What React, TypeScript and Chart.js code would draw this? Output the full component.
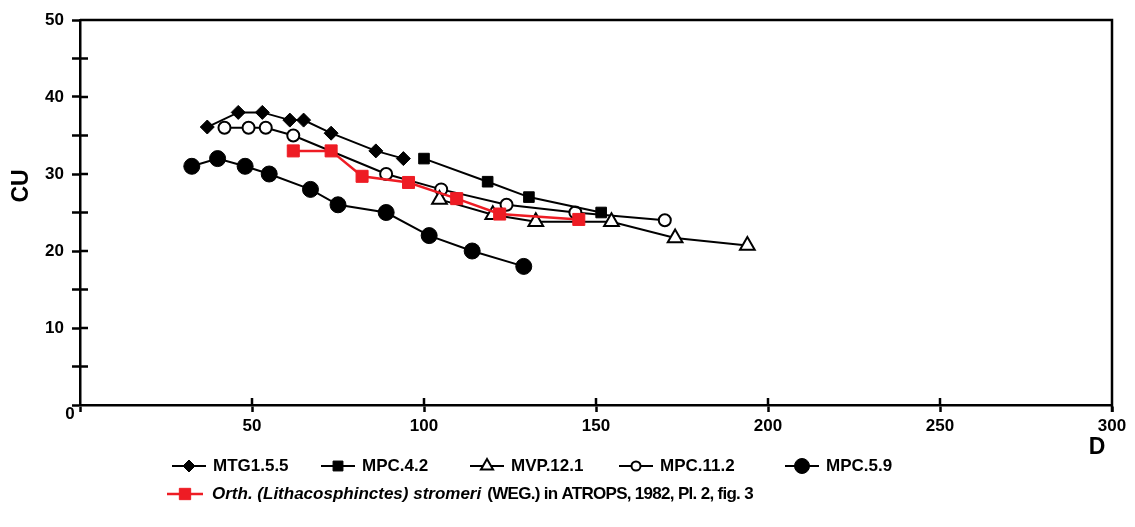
import React, { useEffect, useRef } from 'react';
import { Chart, registerables } from 'chart.js';

Chart.register(...registerables);

// ---- data (D, CU) ----
const MTG_D = [37, 46, 53, 61, 65, 73, 86, 94];
const MTG_CU = [36.1, 38, 38, 37, 37, 35.3, 33, 32];

const MPC42_D = [100, 118.5, 130.5, 151.5];
const MPC42_CU = [32, 29, 27, 25];

const MVP_D = [104.5, 120, 132.5, 154.5, 173, 194];
const MVP_CU = [26.7, 24.7, 23.8, 23.8, 21.7, 20.7];

const MPC112_D = [42, 49, 54, 62, 89, 105, 124, 144, 170];
const MPC112_CU = [36, 36, 36, 35, 30, 28, 26, 25, 24];

const MPC59_D = [32.5, 40, 48, 55, 67, 75, 89, 101.5, 114, 129];
const MPC59_CU = [31, 32, 31, 30, 28, 26, 25, 22, 20, 18];

const ORTH_D = [62, 73, 82, 95.5, 109.5, 122, 145];
const ORTH_CU = [33, 33, 29.7, 28.9, 26.8, 24.8, 24.1];

const X_TICK_LABELS = ['50', '100', '150', '200', '250', '300'];
const Y_TICK_LABELS = ['10', '20', '30', '40', '50'];

const LABELS = ['MTG1.5.5', 'MPC.4.2', 'MVP.12.1', 'MPC.11.2', 'MPC.5.9'];
const ORTH_ITALIC = 'Orth. (Lithacosphinctes) stromeri';
const ORTH_REST = ' (WEG.) in ATROPS, 1982, Pl. 2, fig. 3';

const FONT = "'Liberation Sans', Arial, sans-serif";
const RED = '#ee1c24';

const pts = (xs: number[], ys: number[]) => xs.map((x, i) => ({ x, y: ys[i] }));

type MarkerSpec = { style: string; r: number; fill: string; stroke: string; lw: number };

function drawMarker(ctx: CanvasRenderingContext2D, x: number, y: number, m: MarkerSpec) {
  ctx.save();
  ctx.beginPath();
  if (m.style === 'circle') {
    ctx.arc(x, y, m.r, 0, Math.PI * 2);
  } else if (m.style === 'rect') {
    const s = m.r * Math.SQRT1_2;
    ctx.rect(x - s, y - s, 2 * s, 2 * s);
  } else if (m.style === 'rectRot') {
    ctx.moveTo(x, y - m.r);
    ctx.lineTo(x + m.r, y);
    ctx.lineTo(x, y + m.r);
    ctx.lineTo(x - m.r, y);
    ctx.closePath();
  } else if (m.style === 'triangle') {
    ctx.moveTo(x, y - m.r);
    ctx.lineTo(x + m.r * 0.866, y + m.r * 0.5);
    ctx.lineTo(x - m.r * 0.866, y + m.r * 0.5);
    ctx.closePath();
  }
  ctx.fillStyle = m.fill;
  ctx.fill();
  ctx.lineWidth = m.lw;
  ctx.strokeStyle = m.stroke;
  ctx.stroke();
  ctx.restore();
}

const LEGEND_MARKERS: MarkerSpec[] = [
  { style: 'rectRot', r: 6, fill: '#000', stroke: '#000', lw: 1 },
  { style: 'rect', r: 7, fill: '#000', stroke: '#000', lw: 1 },
  { style: 'triangle', r: 7, fill: '#fff', stroke: '#000', lw: 2 },
  { style: 'circle', r: 4.5, fill: '#fff', stroke: '#000', lw: 2 },
  { style: 'circle', r: 7.5, fill: '#000', stroke: '#000', lw: 1 },
];

const decorPlugin = {
  id: 'decor',
  beforeDatasetsDraw(chart: any) {
    const { ctx, chartArea } = chart;
    const xs = chart.scales.x;
    const ys = chart.scales.y;
    ctx.save();
    ctx.strokeStyle = '#000';
    ctx.lineWidth = 2.5;
    ctx.lineCap = 'butt';
    // frame top & right
    ctx.beginPath();
    ctx.moveTo(chartArea.left, chartArea.top);
    ctx.lineTo(chartArea.right, chartArea.top);
    ctx.lineTo(chartArea.right, chartArea.bottom + 7);
    ctx.stroke();
    // inner halves of ticks
    ctx.beginPath();
    for (let v = 5; v < 50; v += 5) {
      const py = ys.getPixelForValue(v);
      ctx.moveTo(chartArea.left, py);
      ctx.lineTo(chartArea.left + 8, py);
    }
    for (let v = 50; v < 300; v += 50) {
      const px = xs.getPixelForValue(v);
      ctx.moveTo(px, chartArea.bottom);
      ctx.lineTo(px, chartArea.bottom - 7);
    }
    ctx.stroke();
    ctx.restore();
  },
  afterDraw(chart: any) {
    const { ctx } = chart;
    ctx.save();
    ctx.fillStyle = '#000';
    ctx.textBaseline = 'middle';
    // corner zero
    ctx.font = `bold 17px ${FONT}`;
    ctx.textAlign = 'center';
    ctx.fillText('0', 70, 414);
    // axis titles
    ctx.font = `bold 23px ${FONT}`;
    ctx.fillText('D', 1097, 448);
    ctx.save();
    ctx.translate(22, 186);
    ctx.rotate(-Math.PI / 2);
    ctx.fillText('CU', 0, 0);
    ctx.restore();

    // legend row 1
    const rowY = 466;
    const starts = [172, 321, 470, 619, 785];
    ctx.font = `bold 17px ${FONT}`;
    ctx.textAlign = 'left';
    starts.forEach((sx, i) => {
      ctx.strokeStyle = '#000';
      ctx.lineWidth = 2;
      ctx.beginPath();
      ctx.moveTo(sx, rowY);
      ctx.lineTo(sx + 34, rowY);
      ctx.stroke();
      drawMarker(ctx, sx + 17, rowY, LEGEND_MARKERS[i]);
      ctx.fillStyle = '#000';
      ctx.fillText(LABELS[i], sx + 41, rowY);
    });
    // legend row 2
    const r2 = 494;
    const s2 = 167;
    ctx.strokeStyle = RED;
    ctx.lineWidth = 2.5;
    ctx.beginPath();
    ctx.moveTo(s2, r2);
    ctx.lineTo(s2 + 36, r2);
    ctx.stroke();
    drawMarker(ctx, s2 + 18, r2, { style: 'rect', r: 8, fill: RED, stroke: RED, lw: 1 });
    ctx.fillStyle = '#000';
    ctx.font = `italic bold 17px ${FONT}`;
    ctx.fillText(ORTH_ITALIC, s2 + 45, r2);
    const w = ctx.measureText(ORTH_ITALIC).width;
    ctx.font = `bold 17px ${FONT}`;
    (ctx as any).letterSpacing = '-0.7px';
    ctx.fillText(ORTH_REST, s2 + 47 + w, r2);
    (ctx as any).letterSpacing = '0px';
    ctx.restore();
  },
};

export default function App() {
  const ref = useRef<HTMLCanvasElement | null>(null);

  useEffect(() => {
    document.body.style.margin = '0';
    const canvas = ref.current;
    if (!canvas) return;
    const black = (d: { x: number; y: number }[], label: string, style: string, r: number, fill: string) => ({
      label,
      data: d,
      showLine: true,
      borderColor: '#000',
      borderWidth: 2,
      pointStyle: style,
      pointRadius: r,
      pointBackgroundColor: fill,
      pointBorderColor: '#000',
      pointBorderWidth: fill === '#fff' ? 2 : 1,
      order: 1,
    });
    const chart = new Chart(canvas, {
      type: 'scatter',
      data: {
        datasets: [
          {
            label: 'Orth',
            data: pts(ORTH_D, ORTH_CU),
            showLine: true,
            borderColor: RED,
            borderWidth: 2.5,
            pointStyle: 'rect',
            pointRadius: 8.5,
            pointBackgroundColor: RED,
            pointBorderColor: RED,
            pointBorderWidth: 1,
            order: 0,
          },
          black(pts(MTG_D, MTG_CU), LABELS[0], 'rectRot', 7, '#000'),
          black(pts(MPC42_D, MPC42_CU), LABELS[1], 'rect', 7.5, '#000'),
          black(pts(MVP_D, MVP_CU), LABELS[2], 'triangle', 8.5, '#fff'),
          black(pts(MPC112_D, MPC112_CU), LABELS[3], 'circle', 6, '#fff'),
          black(pts(MPC59_D, MPC59_CU), LABELS[4], 'circle', 8, '#000'),
        ] as any,
      },
      options: {
        animation: false,
        responsive: false,
        maintainAspectRatio: false,
        layout: { padding: { left: 0, top: 20, right: 23, bottom: 0 } },
        plugins: { legend: { display: false }, tooltip: { enabled: false } },
        scales: {
          x: {
            type: 'linear',
            min: 0,
            max: 300,
            afterFit: (s: any) => { s.height = 122; },
            ticks: {
              stepSize: 50,
              padding: 4,
              color: '#000',
              font: { family: FONT, size: 17, weight: 'bold' },
              callback: (v: any) => X_TICK_LABELS.find((t) => Number(t) === v) ?? '',
            },
            grid: { display: true, drawOnChartArea: false, drawTicks: true, tickLength: 7, tickWidth: 2.5, tickColor: '#000' },
            border: { display: true, color: '#000', width: 2.5 },
          },
          y: {
            type: 'linear',
            min: 0,
            max: 50,
            afterFit: (s: any) => { s.width = 80; },
            ticks: {
              stepSize: 5,
              padding: 8,
              color: '#000',
              font: { family: FONT, size: 17, weight: 'bold' },
              callback: (v: any) => Y_TICK_LABELS.find((t) => Number(t) === v) ?? '',
            },
            grid: { display: true, drawOnChartArea: false, drawTicks: true, tickLength: 8, tickWidth: 2.5, tickColor: '#000' },
            border: { display: true, color: '#000', width: 2.5 },
          },
        },
      } as any,
      plugins: [decorPlugin],
    });
    return () => chart.destroy();
  }, []);

  return (
    <div style={{ position: 'relative', width: 1135, height: 527, background: '#fff' }}>
      <canvas ref={ref} width={1135} height={527} style={{ display: 'block', width: 1135, height: 527 }} />
    </div>
  );
}
